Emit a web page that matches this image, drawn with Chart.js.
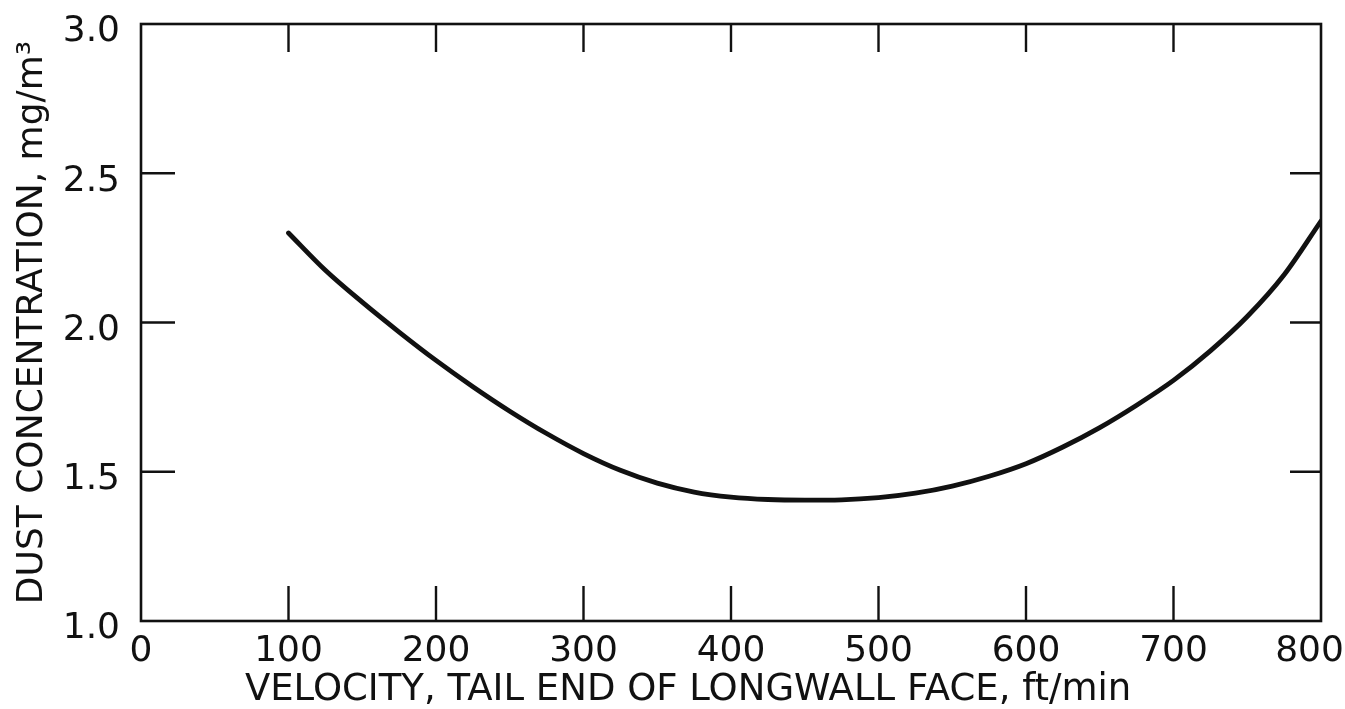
<!DOCTYPE html>
<html>
<head>
<meta charset="utf-8">
<script src="https://cdn.jsdelivr.net/npm/chart.js@4.4.1/dist/chart.umd.min.js"></script>
<style>
   html, body { margin: 0; padding: 0; background: #fff; }
</style>
</head>
<body>
<canvas id="chart" width="1345" height="709"></canvas>
<script>
'use strict';

// velocity at tail end, ft/min
const velocity = [100, 125, 150, 175, 200, 225, 250, 275, 300, 325, 350, 375, 400, 425, 450,
   475, 500, 525, 550, 575, 600, 625, 650, 675, 700, 725, 750, 775, 800];
// dust concentration, mg/m3
const dust = [2.30, 2.175, 2.068, 1.968, 1.873, 1.785, 1.703, 1.628, 1.561, 1.505, 1.462, 1.432, 1.415, 1.407, 1.405,
   1.406, 1.413, 1.428, 1.452, 1.485, 1.527, 1.583, 1.648, 1.723, 1.806, 1.905, 2.02, 2.16, 2.34];

const xTickValues = [0, 100, 200, 300, 400, 500, 600, 700, 800];
const yTickValues = [1.0, 1.5, 2.0, 2.5, 3.0];

// trailing spaces pull the centred title a bit to the left, as in the original
const xTitle = 'VELOCITY, TAIL END OF LONGWALL FACE, ft/min\u2003\u2003 ';
const yTitle = 'DUST CONCENTRATION, mg/m\u00B3';

const ink = '#111';
const fontFamily = '"DejaVu Sans", "Liberation Sans", sans-serif';

function getSeries(xValues, yValues) {
   const result = [];
   for (let i = 0; i < xValues.length; i++) {
      result.push({ x: xValues[i], y: yValues[i] });
   }
   return result;
}

// box round the plot with tick marks pointing inward on all four sides
const framePlugin = {
   id: 'frame',
   afterDraw(chart) {
      const ctx = chart.ctx;
      const area = chart.chartArea;
      const xs = chart.scales.x;
      const ys = chart.scales.y;
      ctx.save();
      ctx.strokeStyle = ink;
      ctx.lineWidth = 2.6;
      ctx.lineCap = 'square';
      ctx.strokeRect(area.left, area.top, area.right - area.left, area.bottom - area.top);
      ctx.lineWidth = 2.4;
      ctx.lineCap = 'butt';
      ctx.beginPath();
      xTickValues.slice(1, -1).forEach(function (v) {
         const px = xs.getPixelForValue(v);
         ctx.moveTo(px, area.bottom);
         ctx.lineTo(px, area.bottom - 35);
         ctx.moveTo(px, area.top);
         ctx.lineTo(px, area.top + 28);
      });
      yTickValues.slice(1, -1).forEach(function (v) {
         const py = ys.getPixelForValue(v);
         ctx.moveTo(area.left, py);
         ctx.lineTo(area.left + 34, py);
         ctx.moveTo(area.right, py);
         ctx.lineTo(area.right - 31, py);
      });
      ctx.stroke();
      ctx.restore();
   }
};

const config = {
   type: 'line',
   data: {
      datasets: [{
         data: getSeries(velocity, dust),
         borderColor: ink,
         borderWidth: 4.8,
         borderCapStyle: 'round',
         borderJoinStyle: 'round',
         cubicInterpolationMode: 'monotone',
         pointRadius: 0,
         fill: false
      }]
   },
   options: {
      responsive: false,
      devicePixelRatio: 1,
      animation: false,
      layout: {
         padding: { left: 0, top: 24, right: 24, bottom: 0 }
      },
      scales: {
         x: {
            type: 'linear',
            min: 0,
            max: 800,
            afterBuildTicks: function (scale) {
               scale.ticks = xTickValues.map(function (v) { return { value: v }; });
            },
            afterFit: function (scale) {
               scale.height = 88;
               scale.paddingLeft = 0;
               scale.paddingRight = 0;
            },
            ticks: {
               color: ink,
               padding: 1,
               maxRotation: 0,
               autoSkip: false,
               font: { family: fontFamily, size: 36 },
               // last label is pulled in a little so it stays on the page
               callback: function (v) { return v === 800 ? v + '\u2007' : String(v); }
            },
            grid: { display: false },
            border: { display: false },
            title: {
               display: true,
               text: xTitle,
               color: ink,
               padding: { top: 0, bottom: -4 },
               font: { family: fontFamily, size: 37 }
            }
         },
         y: {
            type: 'linear',
            min: 1,
            max: 3,
            afterBuildTicks: function (scale) {
               scale.ticks = yTickValues.map(function (v) { return { value: v }; });
            },
            afterFit: function (scale) {
               scale.width = 141;
               scale.paddingTop = 0;
               scale.paddingBottom = 0;
            },
            ticks: {
               color: ink,
               padding: 13,
               labelOffset: 8,
               font: { family: fontFamily, size: 36 },
               callback: function (v) { return v.toFixed(1); }
            },
            grid: { display: false },
            border: { display: false },
            title: {
               display: true,
               text: yTitle,
               color: ink,
               padding: { top: 11, bottom: 0 },
               font: { family: fontFamily, size: 36 }
            }
         }
      },
      plugins: {
         legend: { display: false },
         tooltip: { enabled: false },
         title: { display: false }
      }
   },
   plugins: [framePlugin]
};

const chart = new Chart(document.getElementById('chart'), config);
</script>
</body>
</html>
